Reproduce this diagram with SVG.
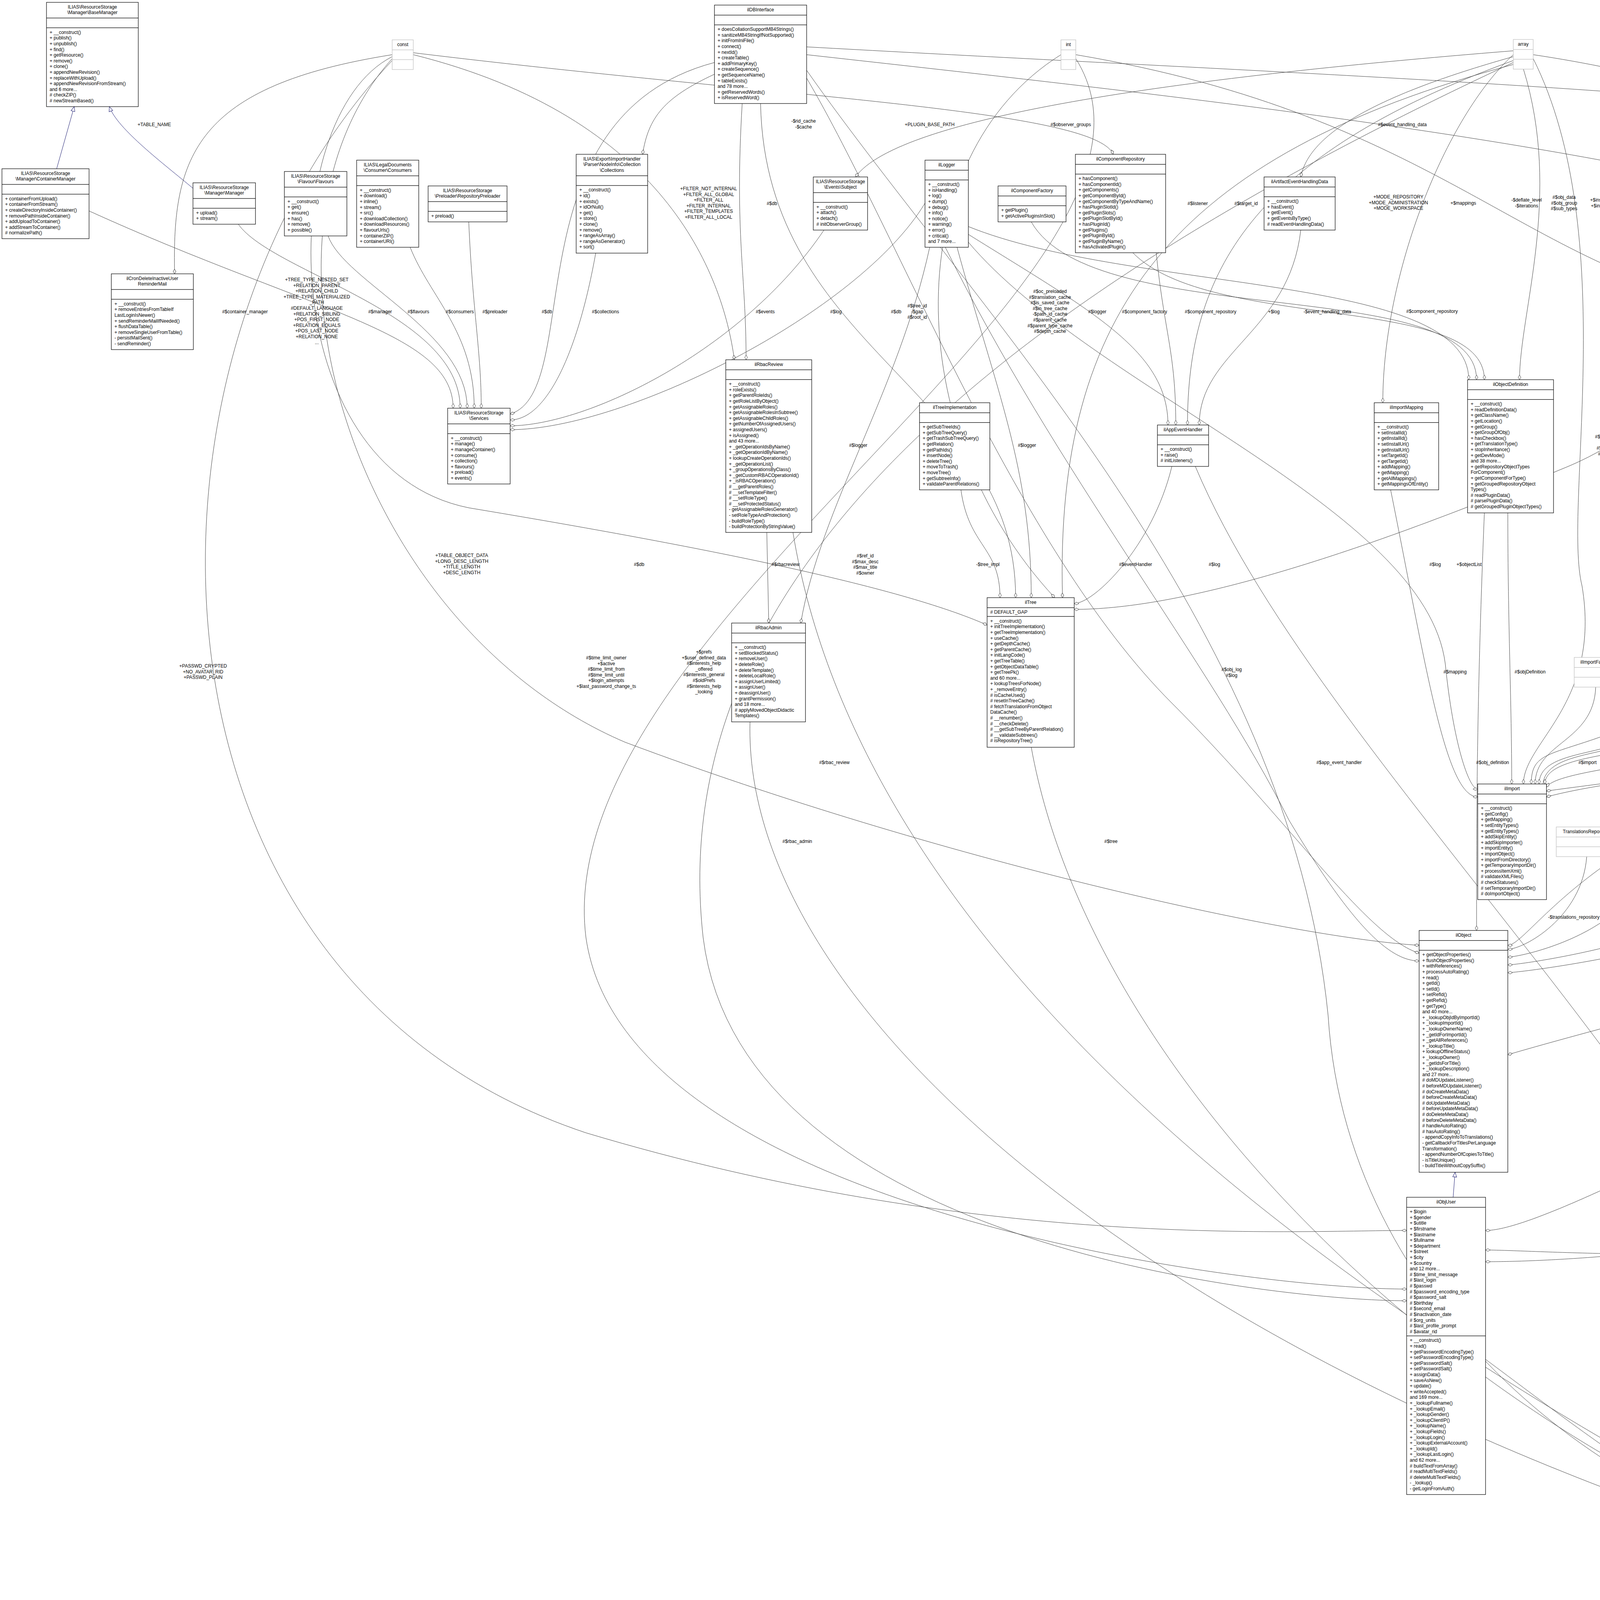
<svg xmlns="http://www.w3.org/2000/svg" width="7123" height="4123" viewBox="0 0 7123 4123">
<style>
text{font-family:"Liberation Sans",Arial,sans-serif;font-size:12px;fill:#000}
.t{text-anchor:middle}
.lb{text-anchor:middle}
.n rect{fill:#fff;stroke:#000;stroke-width:1.2}
.n path{stroke:#000;stroke-width:1.2;fill:none}
.x rect{fill:#fff;stroke:#bfbfbf;stroke-width:1.2}
.x path{stroke:#bfbfbf;stroke-width:1.2;fill:none}
.f rect{fill:#bfbfbf}
.agg{fill:none;stroke:#404040;stroke-width:1;marker-end:url(#dia)}
.inh{fill:none;stroke:#191970;stroke-width:1;marker-end:url(#tri)}
</style>
<defs>
<marker id="dia" markerUnits="userSpaceOnUse" markerWidth="14" markerHeight="10" refX="13" refY="5" orient="auto"><path d="M1 5L7 1.5L13 5L7 8.5Z" fill="#fff" stroke="#404040"/></marker>
<marker id="tri" markerUnits="userSpaceOnUse" markerWidth="14" markerHeight="12" refX="13" refY="6" orient="auto"><path d="M1 1L13 6L1 11Z" fill="#fff" stroke="#191970"/></marker>
</defs>
<rect width="7123" height="4123" fill="#fff"/>
<g id="connectors">
<path class="inh" d="M145 432L190 273"/>
<path class="inh" d="M494 482C420 420,300 330,280 273"/>
<path class="inh" d="M5222 388L5240 237"/>
<path class="inh" d="M5300 1060L5360 582"/>
<path class="inh" d="M5715 1074L5400 582"/>
<path class="inh" d="M5690 1993L5840 1783"/>
<path class="inh" d="M6265 1573L6420 1195"/>
<path class="inh" d="M4770 3894C4760 3000,4400 2100,4270 1833"/>
<path class="inh" d="M3720 3065L3725 3001"/>
<path class="agg" d="M228 540C800 800,1160 850,1160 1045"/>
<path class="agg" d="M610 574C700 700,1178 800,1178 1045"/>
<path class="agg" d="M840 604C880 720,1196 850,1196 1045"/>
<path class="agg" d="M1050 633C1100 760,1214 850,1214 1045"/>
<path class="agg" d="M1200 568C1210 800,1232 900,1232 1045"/>
<path class="agg" d="M1829 160C1300 300,1500 1000,1306 1060"/>
<path class="agg" d="M1525 648C1480 900,1400 1075,1306 1075"/>
<path class="agg" d="M2110 588C1900 900,1500 1090,1306 1090"/>
<path class="agg" d="M1004 140C500 220,440 400,447 701"/>
<path class="agg" d="M1004 145C700 300,700 1200,1200 1300C1800 1400,2300 1500,2527 1600"/>
<path class="agg" d="M1004 150C600 600,900 1600,1600 1900C2400 2200,3300 2400,3633 2420"/>
<path class="agg" d="M1004 155C300 900,300 2500,1500 2900C2500 3200,3300 3150,3601 3150"/>
<path class="agg" d="M1058 140C1700 300,1850 700,1880 921"/>
<path class="agg" d="M1058 135C2000 250,2800 280,2850 395"/>
<path class="agg" d="M1947 265C1960 900,2600 1000,2600 1530"/>
<path class="agg" d="M1900 265C1880 600,1910 700,1910 921"/>
<path class="agg" d="M2065 200C2300 600,2600 1400,3000 1800C3300 2100,3500 2400,3633 2440"/>
<path class="agg" d="M2065 120C3500 200,5000 250,5115 388"/>
<path class="agg" d="M2065 140C3500 300,5400 500,5475 1022"/>
<path class="agg" d="M2065 180C2500 800,3300 1600,3400 2600C3450 3400,4200 3900,4667 3960"/>
<path class="agg" d="M1829 190C1700 250,1660 300,1645 395"/>
<path class="agg" d="M2716 140C2300 400,2300 1100,2700 1530"/>
<path class="agg" d="M2754 150C3100 700,1400 1600,1500 2400C1600 3100,3200 3300,3601 3300"/>
<path class="agg" d="M2754 140C3700 300,3900 700,4500 800C5000 880,5250 900,5250 1060"/>
<path class="agg" d="M3874 140C3700 300,3540 700,3540 1031"/>
<path class="agg" d="M3900 177C4000 500,3890 800,3890 972"/>
<path class="agg" d="M3874 160C2500 800,1700 1500,1800 2400C1900 3200,3300 3330,3601 3330"/>
<path class="agg" d="M3925 150C4150 600,4000 1300,4050 1500C4100 1800,3900 1900,3900 2007"/>
<path class="agg" d="M3925 140C5000 300,6150 1000,6180 1573"/>
<path class="agg" d="M3874 130C3000 200,2300 300,2190 453"/>
<path class="agg" d="M3874 145C3500 250,3350 350,3330 453"/>
<path class="agg" d="M3874 155C3200 400,3040 700,3040 1088"/>
<path class="agg" d="M3874 165C3000 400,2700 800,2720 1530"/>
<path class="agg" d="M4855 150C4400 500,4500 1000,4000 1200C3400 1450,3000 1560,2750 1560"/>
<path class="agg" d="M4880 177C4700 800,4290 1200,4290 1610"/>
<path class="agg" d="M4870 177C4900 1000,4900 1900,4300 2100C4000 2250,3900 2420,3860 2420"/>
<path class="agg" d="M4890 177C5100 1500,5000 2600,4200 3000C3950 3120,3850 3150,3803 3150"/>
<path class="agg" d="M4909 150C5050 200,5130 300,5130 388"/>
<path class="agg" d="M4909 140C5500 200,5980 250,5980 366"/>
<path class="agg" d="M4909 170C5300 400,5500 700,5500 1022"/>
<path class="agg" d="M4909 177C5000 1000,5150 1400,5150 1700C5150 1900,5400 2020,5520 2020"/>
<path class="agg" d="M4909 160C5050 500,5240 800,5240 1060"/>
<path class="agg" d="M4909 165C5700 400,5900 600,5900 800C5900 950,5740 950,5740 1074"/>
<path class="agg" d="M4860 177C4500 700,4700 1500,4300 1800C4000 1950,3920 1900,3920 2007"/>
<path class="agg" d="M4909 130C6000 250,6300 900,6200 1573"/>
<path class="agg" d="M5200 655C5300 850,5480 850,5480 1022"/>
<path class="agg" d="M5140 655C4950 1000,4950 2500,5000 3000C5050 3500,4950 3894,4890 3894"/>
<path class="agg" d="M5400 177C5390 300,5380 380,5380 461"/>
<path class="agg" d="M5720 177C5750 350,5900 380,5963 380"/>
<path class="agg" d="M6244 150C6100 250,6100 300,6100 366"/>
<path class="agg" d="M6270 177C6450 600,6400 1300,6240 1573"/>
<path class="agg" d="M6298 170C6900 800,6900 2000,6000 2700C5000 3200,4000 3230,3803 3230"/>
<path class="agg" d="M6632 150C6400 250,6250 380,6167 380"/>
<path class="agg" d="M6650 177C6700 900,6500 1700,6270 1700"/>
<path class="agg" d="M6660 177C6900 1000,6600 2100,5699 2200"/>
<path class="agg" d="M6679 160C7100 800,7100 2400,6200 2900C5200 3300,4000 3200,3803 3200"/>
<path class="agg" d="M6640 170C6300 500,5760 700,5760 1074"/>
<path class="agg" d="M5299 1225C5300 1400,5300 1500,5300 1633"/>
<path class="agg" d="M5700 1209C5650 1450,5390 1450,5390 1633"/>
<path class="agg" d="M5523 1257C5530 1600,5560 1700,5560 1993"/>
<path class="agg" d="M6060 677C6000 900,5600 850,5580 1022"/>
<path class="agg" d="M6131 1800C6000 1950,5800 2100,5699 2100"/>
<path class="agg" d="M5580 1257C5700 1500,6000 1650,6131 1650"/>
<path class="agg" d="M5520 2250C5200 2350,4200 2600,3860 2700"/>
<path class="agg" d="M5560 2318C5500 3000,5000 3800,4894 3910"/>
<path class="agg" d="M5280 1812C5100 1950,4300 1950,3959 2040"/>
<path class="agg" d="M5480 1257C5300 1900,4500 1950,3959 2025"/>
<path class="agg" d="M3560 1254C3650 1700,3700 2040,3783 2040"/>
<path class="agg" d="M3860 1313C3860 1600,3870 1800,3870 2007"/>
<path class="agg" d="M3800 1313C3780 1800,3780 2100,3780 2382"/>
<path class="agg" d="M4085 1759C4080 1900,3930 1900,3930 2007"/>
<path class="agg" d="M4210 1833C4200 1950,3940 1900,3940 2007"/>
<path class="agg" d="M3950 2007C3960 1900,4230 1950,4230 1833"/>
<path class="agg" d="M4440 1796C4400 1950,3955 1900,3955 2007"/>
<path class="agg" d="M4637 1759C4600 1950,4000 1950,3959 2015"/>
<path class="agg" d="M4062 2193C4050 2350,3900 2430,3860 2430"/>
<path class="agg" d="M4214 2193C4200 2380,3900 2450,3860 2450"/>
<path class="agg" d="M4400 2288C4350 2400,3900 2470,3860 2470"/>
<path class="agg" d="M4645 2215C4600 2400,3900 2490,3860 2490"/>
<path class="agg" d="M3803 3480C4100 3700,4400 3945,4667 3945"/>
<path class="agg" d="M1963 1363L1968 1595"/>
<path class="agg" d="M2460 1254C2480 1400,2560 1400,2560 1530"/>
<path class="agg" d="M3000 1194C2950 1400,2800 1545,2750 1545"/>
<path class="agg" d="M1920 1848C1900 2600,3000 3500,4667 4000"/>
<path class="agg" d="M2030 1363C2200 2400,3300 3300,4667 3990"/>
<path class="agg" d="M2640 1913C2800 2800,3800 3700,4667 3980"/>
<path class="agg" d="M3060 1194C3400 2000,4600 3000,4720 3894"/>
<path class="agg" d="M2640 568C2800 850,3780 700,3780 972"/>
<path class="agg" d="M2900 647C3100 850,3800 750,3800 972"/>
<path class="agg" d="M2960 647C2980 850,3010 900,3010 1088"/>
<path class="agg" d="M3330 589C3300 850,3070 900,3070 1088"/>
<path class="agg" d="M2380 633C2300 1000,2100 1300,2050 1595"/>
<path class="agg" d="M2450 633C2550 1000,2640 1200,2640 1530"/>
<path class="agg" d="M2479 600C2800 800,2990 900,2990 1088"/>
<path class="agg" d="M2479 580C2900 750,3760 700,3760 972"/>
<path class="agg" d="M2479 620C2800 1000,3650 1300,3700 1700C3720 1900,3760 2020,3783 2020"/>
<path class="agg" d="M2420 633C2700 1200,3100 1700,3300 2100C3450 2350,3550 2460,3633 2460"/>
<path class="agg" d="M2368 520C2200 800,1600 1100,1306 1100"/>
<text class="lb" x="395" y="323">+TABLE_NAME</text>
<text class="lb" x="627" y="802">#$container_manager</text>
<text class="lb" x="811" y="720"><tspan x="811">+TREE_TYPE_NESTED_SET</tspan><tspan x="811" dy="14.6">+RELATION_PARENT</tspan><tspan x="811" dy="14.6">+RELATION_CHILD</tspan><tspan x="811" dy="14.6">+TREE_TYPE_MATERIALIZED</tspan><tspan x="811" dy="14.6">_PATH</tspan><tspan x="811" dy="14.6">#DEFAULT_LANGUAGE</tspan><tspan x="811" dy="14.6">+RELATION_SIBLING</tspan><tspan x="811" dy="14.6">+POS_FIRST_NODE</tspan><tspan x="811" dy="14.6">+RELATION_EQUALS</tspan><tspan x="811" dy="14.6">+POS_LAST_NODE</tspan><tspan x="811" dy="14.6">+RELATION_NONE</tspan><tspan x="811" dy="14.6">...</tspan></text>
<text class="lb" x="973" y="802">#$manager</text>
<text class="lb" x="1071" y="802">#$flavours</text>
<text class="lb" x="1177" y="802">#$consumers</text>
<text class="lb" x="1267" y="802">#$preloader</text>
<text class="lb" x="1400" y="802">#$db</text>
<text class="lb" x="1550" y="802">#$collections</text>
<text class="lb" x="2057" y="314"><tspan x="2057">-$rid_cache</tspan><tspan x="2057" dy="14.6">-$cache</tspan></text>
<text class="lb" x="2380" y="323">+PLUGIN_BASE_PATH</text>
<text class="lb" x="1814" y="487"><tspan x="1814">+FILTER_NOT_INTERNAL</tspan><tspan x="1814" dy="14.6">+FILTER_ALL_GLOBAL</tspan><tspan x="1814" dy="14.6">+FILTER_ALL</tspan><tspan x="1814" dy="14.6">+FILTER_INTERNAL</tspan><tspan x="1814" dy="14.6">+FILTER_TEMPLATES</tspan><tspan x="1814" dy="14.6">+FILTER_ALL_LOCAL</tspan></text>
<text class="lb" x="1976" y="525">#$db</text>
<text class="lb" x="1959" y="802">#$events</text>
<text class="lb" x="2140" y="802">#$log</text>
<text class="lb" x="2294" y="802">#$db</text>
<text class="lb" x="2348" y="787"><tspan x="2348">#$tree_id</tspan><tspan x="2348" dy="14.6">-$gap</tspan><tspan x="2348" dy="14.6">#$root_id</tspan></text>
<text class="lb" x="2741" y="323">#$observer_groups</text>
<text class="lb" x="3590" y="323">#$event_handling_data</text>
<text class="lb" x="3066" y="525">#$listener</text>
<text class="lb" x="3190" y="525">#$target_id</text>
<text class="lb" x="3580" y="508"><tspan x="3580">+MODE_REPOSITORY</tspan><tspan x="3580" dy="14.6">+MODE_ADMINISTRATION</tspan><tspan x="3580" dy="14.6">+MODE_WORKSPACE</tspan></text>
<text class="lb" x="2688" y="750"><tspan x="2688">#$oc_preloaded</tspan><tspan x="2688" dy="14.6">#$translation_cache</tspan><tspan x="2688" dy="14.6">#$is_saved_cache</tspan><tspan x="2688" dy="14.6">#$in_tree_cache</tspan><tspan x="2688" dy="14.6">-$path_id_cache</tspan><tspan x="2688" dy="14.6">#$parent_cache</tspan><tspan x="2688" dy="14.6">#$parent_type_cache</tspan><tspan x="2688" dy="14.6">#$depth_cache</tspan></text>
<text class="lb" x="2809" y="802">#$logger</text>
<text class="lb" x="2930" y="802">#$component_factory</text>
<text class="lb" x="3099" y="802">#$component_repository</text>
<text class="lb" x="3261" y="802">+$log</text>
<text class="lb" x="3398" y="802">-$event_handling_data</text>
<text class="lb" x="4199" y="314"><tspan x="4199">-SENSTIVE_PARAMETER</tspan><tspan x="4199" dy="14.6">_NAMES</tspan></text>
<text class="lb" x="4602" y="322">#$db</text>
<text class="lb" x="4790" y="307"><tspan x="4790">+$MESSAGE</tspan><tspan x="4790" dy="14.6">+$FATAL</tspan><tspan x="4790" dy="14.6">+$WARNING</tspan></text>
<text class="lb" x="5027" y="322">+$setting</text>
<text class="lb" x="5127" y="322">+$module</text>
<text class="lb" x="5270" y="322">-$ignore</text>
<text class="lb" x="3746" y="524">+$mappings</text>
<text class="lb" x="3908" y="516"><tspan x="3908">-$deflate_level</tspan><tspan x="3908" dy="14.6">-$iterations</tspan></text>
<text class="lb" x="4004" y="509"><tspan x="4004">#$obj_data</tspan><tspan x="4004" dy="14.6">#$obj_group</tspan><tspan x="4004" dy="14.6">#$sub_types</tspan></text>
<text class="lb" x="4103" y="516"><tspan x="4103">+$install_url</tspan><tspan x="4103" dy="14.6">+$install_id</tspan></text>
<text class="lb" x="4474" y="502"><tspan x="4474">#$parent_tag_name</tspan><tspan x="4474" dy="14.6">#$current_tag_name</tspan><tspan x="4474" dy="14.6">#$current_tag</tspan><tspan x="4474" dy="14.6">#$root_trans_type</tspan></text>
<text class="lb" x="5037" y="516"><tspan x="5037">-$zip_output_path</tspan><tspan x="5037" dy="14.6">-$zip_output_name</tspan></text>
<text class="lb" x="3666" y="801">#$component_repository</text>
<text class="lb" x="4291" y="801">#$skip_entities</text>
<text class="lb" x="4459" y="757"><tspan x="4459">#$table_obj_data</tspan><tspan x="4459" dy="14.6">#$tree_pk</tspan><tspan x="4459" dy="14.6">#$table_obj_reference</tspan><tspan x="4459" dy="14.6">-$lang_code</tspan><tspan x="4459" dy="14.6">#$obj_pk</tspan><tspan x="4459" dy="14.6">#$ref_pk</tspan><tspan x="4459" dy="14.6">#$table_tree</tspan></text>
<text class="lb" x="4622" y="779"><tspan x="4622">#$import_directory</tspan><tspan x="4622" dy="14.6">#$install_url</tspan><tspan x="4622" dy="14.6">#$install_id</tspan><tspan x="4622" dy="14.6">#$schema_version</tspan></text>
<text class="lb" x="4935" y="801">#$settings</text>
<text class="lb" x="5170" y="801">#$translations</text>
<text class="lb" x="5360" y="801">#$setting</text>
<text class="lb" x="4126" y="1122"><tspan x="4126">#$skip_importer</tspan><tspan x="4126" dy="14.6">#$configs</tspan><tspan x="4126" dy="14.6">#$entity_types</tspan><tspan x="4126" dy="14.6">#$skip_entity</tspan></text>
<text class="lb" x="4677" y="1122"><tspan x="4677">#$entities</tspan><tspan x="4677" dy="14.6">#$current_comp</tspan><tspan x="4677" dy="14.6">#$tmp_import_dir</tspan><tspan x="4677" dy="14.6">#$comp</tspan></text>
<text class="lb" x="4992" y="1122"><tspan x="4992">#$cached_modules</tspan><tspan x="4992" dy="14.6">#$map_modules_txt</tspan><tspan x="4992" dy="14.6">+$loaded_modules</tspan><tspan x="4992" dy="14.6">+$text</tspan></text>
<text class="lb" x="5145" y="1093"><tspan x="5145">+$lang_name</tspan><tspan x="5145" dy="14.6">+$lang_user</tspan><tspan x="5145" dy="14.6">+$lang_path</tspan><tspan x="5145" dy="14.6">#$cust_lang_path</tspan><tspan x="5145" dy="14.6">+$separator</tspan><tspan x="5145" dy="14.6">+$comment_separator</tspan><tspan x="5145" dy="14.6">+$lang_key</tspan><tspan x="5145" dy="14.6">+$lang_default</tspan></text>
<text class="lb" x="5475" y="322">#$top_directory_handling</text>
<text class="lb" x="5673" y="322">#$message</text>
<text class="lb" x="5768" y="322">#$whoops</text>
<text class="lb" x="5916" y="314"><tspan x="5916">-$settings_cache</tspan><tspan x="5916" dy="14.6">-$value_type</tspan></text>
<text class="lb" x="6090" y="322">#$cache_disabled</text>
<text class="lb" x="6264" y="322">#$whoops_handlers_registered</text>
<text class="lb" x="6499" y="322">#$DEBUG_ENV</text>
<text class="lb" x="5552" y="516"><tspan x="5552">+$INI_FILE</tspan><tspan x="5552" dy="14.6">+$client_id</tspan></text>
<text class="lb" x="5708" y="509"><tspan x="5708">#$is_assigned_cache</tspan><tspan x="5708" dy="14.6">-$_opsCache</tspan><tspan x="5708" dy="14.6">#$assigned_users_cache</tspan></text>
<text class="lb" x="5887" y="524">#$zip_output_path</text>
<text class="lb" x="6446" y="516"><tspan x="6446">-$overwrite</tspan><tspan x="6446" dy="14.6">-$flat</tspan></text>
<text class="lb" x="5815" y="801">#$error</text>
<text class="lb" x="6181" y="801">#$use_cache</text>
<text class="lb" x="6308" y="801">#$language_key</text>
<text class="lb" x="6430" y="801">#$instances</text>
<text class="lb" x="6693" y="801">#$loaded</text>
<text class="lb" x="6634" y="1131"><tspan x="6634">#$lng_log</tspan><tspan x="6634" dy="14.6">#$used_modules</tspan><tspan x="6634" dy="14.6">#$used_topics</tspan></text>
<text class="lb" x="6803" y="1144">#$usage_log_enabled</text>
<text class="lb" x="5359" y="1449">-$zip_options</text>
<text class="lb" x="5636" y="1449">-$unzip_options</text>
<text class="lb" x="5969" y="1449">#$language_cache</text>
<text class="lb" x="6872" y="1427"><tspan x="6872">#$register</tspan><tspan x="6872" dy="14.6">#$call_by_reference</tspan><tspan x="6872" dy="14.6">-$process_auto_rating</tspan><tspan x="6872" dy="14.6">#$add_dots</tspan></text>
<text class="lb" x="5641" y="1724">+$ilias</text>
<text class="lb" x="5738" y="1724">#$error</text>
<text class="lb" x="6856" y="1724">#$personal_image_cache</text>
<text class="lb" x="7040" y="1702"><tspan x="7040">#$profile_incomplete</tspan><tspan x="7040" dy="14.6">#$passwd_policy_reset</tspan><tspan x="7040" dy="14.6">#$time_limit_unlimited</tspan><tspan x="7040" dy="14.6">-$is_self_registered</tspan></text>
<text class="lb" x="5970" y="1956">#$global_cache</text>
<text class="lb" x="5431" y="2158">#$delivery</text>
<text class="lb" x="5366" y="2352">#$lng</text>
<text class="lb" x="2197" y="1144">#$logger</text>
<text class="lb" x="2629" y="1144">#$logger</text>
<text class="lb" x="2011" y="1449">#$rbacreview</text>
<text class="lb" x="2215" y="1427"><tspan x="2215">#$ref_id</tspan><tspan x="2215" dy="14.6">#$max_desc</tspan><tspan x="2215" dy="14.6">#$max_title</tspan><tspan x="2215" dy="14.6">#$owner</tspan></text>
<text class="lb" x="2529" y="1449">-$tree_impl</text>
<text class="lb" x="2907" y="1449">#$eventHandler</text>
<text class="lb" x="3109" y="1449">#$log</text>
<text class="lb" x="3674" y="1449">#$log</text>
<text class="lb" x="1802" y="1673"><tspan x="1802">+$prefs</tspan><tspan x="1802" dy="14.6">+$user_defined_data</tspan><tspan x="1802" dy="14.6">#$interests_help</tspan><tspan x="1802" dy="14.6">_offered</tspan><tspan x="1802" dy="14.6">#$interests_general</tspan><tspan x="1802" dy="14.6">#$oldPrefs</tspan><tspan x="1802" dy="14.6">#$interests_help</tspan><tspan x="1802" dy="14.6">_looking</tspan></text>
<text class="lb" x="3153" y="1718"><tspan x="3153">#$obj_log</tspan><tspan x="3153" dy="14.6">#$log</tspan></text>
<text class="lb" x="2136" y="1956">#$rbac_review</text>
<text class="lb" x="3428" y="1956">#$app_event_handler</text>
<text class="lb" x="2041" y="2158">#$rbac_admin</text>
<text class="lb" x="2844" y="2158">#$tree</text>
<text class="lb" x="3761" y="1449">+$objectList</text>
<text class="lb" x="4888" y="1399"><tspan x="4888">#$create_date</tspan><tspan x="4888" dy="14.6">#$desc</tspan><tspan x="4888" dy="14.6">#$title</tspan><tspan x="4888" dy="14.6">#$long_desc</tspan><tspan x="4888" dy="14.6">#$import_id</tspan><tspan x="4888" dy="14.6">+$untranslatedTitle</tspan><tspan x="4888" dy="14.6">#$type</tspan><tspan x="4888" dy="14.6">#$last_update</tspan></text>
<text class="lb" x="3725" y="1724">#$mapping</text>
<text class="lb" x="3917" y="1724">#$objDefinition</text>
<text class="lb" x="5078" y="1652"><tspan x="5078">#$ext_account</tspan><tspan x="5078" dy="14.6">+$email</tspan><tspan x="5078" dy="14.6">+$phone_office</tspan><tspan x="5078" dy="14.6">+$institution</tspan><tspan x="5078" dy="14.6">#$first_login</tspan><tspan x="5078" dy="14.6">+$longitude</tspan><tspan x="5078" dy="14.6">+$hobby</tspan><tspan x="5078" dy="14.6">+$zipcode</tspan><tspan x="5078" dy="14.6">#$passwd_type</tspan><tspan x="5078" dy="14.6">+$referral_comment</tspan><tspan x="5078" dy="14.6">...</tspan></text>
<text class="lb" x="3821" y="1956">#$obj_definition</text>
<text class="lb" x="4064" y="1956">#$import</text>
<text class="lb" x="4169" y="1956">#$importer</text>
<text class="lb" x="4252" y="1956">#$imp</text>
<text class="lb" x="4357" y="1956">#$filesystem</text>
<text class="lb" x="4569" y="1956">-$import_status</text>
<text class="lb" x="4913" y="1956">#$data</text>
<text class="lb" x="5071" y="1956">#$archives</text>
<text class="lb" x="5157" y="1956">#$ilias</text>
<text class="lb" x="4029" y="2352">-$translations_repository</text>
<text class="lb" x="4186" y="2352">#$lom_services</text>
<text class="lb" x="4312" y="2352">-$object_properties</text>
<text class="lb" x="4572" y="2352">-$properties_aggregator</text>
<text class="lb" x="1182" y="1426"><tspan x="1182">+TABLE_OBJECT_DATA</tspan><tspan x="1182" dy="14.6">+LONG_DESC_LENGTH</tspan><tspan x="1182" dy="14.6">+TITLE_LENGTH</tspan><tspan x="1182" dy="14.6">+DESC_LENGTH</tspan></text>
<text class="lb" x="1636" y="1449">#$db</text>
<text class="lb" x="520" y="1709"><tspan x="520">+PASSWD_CRYPTED</tspan><tspan x="520" dy="14.6">+NO_AVATAR_RID</tspan><tspan x="520" dy="14.6">+PASSWD_PLAIN</tspan></text>
<text class="lb" x="1552" y="1688"><tspan x="1552">#$time_limit_owner</tspan><tspan x="1552" dy="14.6">+$active</tspan><tspan x="1552" dy="14.6">#$time_limit_from</tspan><tspan x="1552" dy="14.6">#$time_limit_until</tspan><tspan x="1552" dy="14.6">+$login_attempts</tspan><tspan x="1552" dy="14.6">+$last_password_change_ts</tspan></text>
<text class="lb" x="4300" y="3770">#$user</text>
</g>
<g id="n_basemanager" class="n"><rect x="119" y="6" width="235" height="267"/><path d="M119 46.2H354M119 71.2H354"/><text class="t" y="21.5"><tspan x="236.5">ILIAS\ResourceStorage</tspan><tspan x="236.5" dy="14.6">\Manager\BaseManager</tspan></text><text y="86.7"><tspan x="127">+ __construct()</tspan><tspan x="127" dy="14.6">+ publish()</tspan><tspan x="127" dy="14.6">+ unpublish()</tspan><tspan x="127" dy="14.6">+ find()</tspan><tspan x="127" dy="14.6">+ getResource()</tspan><tspan x="127" dy="14.6">+ remove()</tspan><tspan x="127" dy="14.6">+ clone()</tspan><tspan x="127" dy="14.6">+ appendNewRevision()</tspan><tspan x="127" dy="14.6">+ replaceWithUpload()</tspan><tspan x="127" dy="14.6">+ appendNewRevisionFromStream()</tspan><tspan x="127" dy="14.6">and 6 more...</tspan><tspan x="127" dy="14.6"># checkZIP()</tspan><tspan x="127" dy="14.6"># newStreamBased()</tspan></text></g>
<g id="n_containermanager" class="n"><rect x="5" y="432" width="223" height="179"/><path d="M5 472.2H228M5 497.2H228"/><text class="t" y="447.5"><tspan x="116.5">ILIAS\ResourceStorage</tspan><tspan x="116.5" dy="14.6">\Manager\ContainerManager</tspan></text><text y="512.7"><tspan x="13">+ containerFromUpload()</tspan><tspan x="13" dy="14.6">+ containerFromStream()</tspan><tspan x="13" dy="14.6">+ createDirectoryInsideContainer()</tspan><tspan x="13" dy="14.6">+ removePathInsideContainer()</tspan><tspan x="13" dy="14.6">+ addUploadToContainer()</tspan><tspan x="13" dy="14.6">+ addStreamToContainer()</tspan><tspan x="13" dy="14.6"># normalizePath()</tspan></text></g>
<g id="n_manager" class="n"><rect x="494" y="468" width="160" height="106"/><path d="M494 508.2H654M494 533.2H654"/><text class="t" y="483.5"><tspan x="574">ILIAS\ResourceStorage</tspan><tspan x="574" dy="14.6">\Manager\Manager</tspan></text><text y="548.7"><tspan x="502">+ upload()</tspan><tspan x="502" dy="14.6">+ stream()</tspan></text></g>
<g id="n_flavours" class="n"><rect x="728" y="439" width="160" height="165"/><path d="M728 479.2H888M728 504.2H888"/><text class="t" y="454.5"><tspan x="808">ILIAS\ResourceStorage</tspan><tspan x="808" dy="14.6">\Flavour\Flavours</tspan></text><text y="519.7"><tspan x="736">+ __construct()</tspan><tspan x="736" dy="14.6">+ get()</tspan><tspan x="736" dy="14.6">+ ensure()</tspan><tspan x="736" dy="14.6">+ has()</tspan><tspan x="736" dy="14.6">+ remove()</tspan><tspan x="736" dy="14.6">+ possible()</tspan></text></g>
<g id="n_consumers" class="n"><rect x="913" y="410" width="159" height="223"/><path d="M913 450.2H1072M913 475.2H1072"/><text class="t" y="425.5"><tspan x="992.5">ILIAS\LegalDocuments</tspan><tspan x="992.5" dy="14.6">\Consumer\Consumers</tspan></text><text y="490.7"><tspan x="921">+ __construct()</tspan><tspan x="921" dy="14.6">+ download()</tspan><tspan x="921" dy="14.6">+ inline()</tspan><tspan x="921" dy="14.6">+ stream()</tspan><tspan x="921" dy="14.6">+ src()</tspan><tspan x="921" dy="14.6">+ downloadCollection()</tspan><tspan x="921" dy="14.6">+ downloadResources()</tspan><tspan x="921" dy="14.6">+ flavourUrls()</tspan><tspan x="921" dy="14.6">+ containerZIP()</tspan><tspan x="921" dy="14.6">+ containerURI()</tspan></text></g>
<g id="n_preloader" class="n"><rect x="1096" y="476" width="202" height="92"/><path d="M1096 516.2H1298M1096 541.2H1298"/><text class="t" y="491.5"><tspan x="1197">ILIAS\ResourceStorage</tspan><tspan x="1197" dy="14.6">\Preloader\RepositoryPreloader</tspan></text><text y="556.7"><tspan x="1104">+ preload()</tspan></text></g>
<g id="n_crondelete" class="n"><rect x="285" y="701" width="210" height="194"/><path d="M285 741.2H495M285 766.2H495"/><text class="t" y="716.5"><tspan x="390">ilCronDeleteInactiveUser</tspan><tspan x="390" dy="14.6">ReminderMail</tspan></text><text y="781.7"><tspan x="293">+ __construct()</tspan><tspan x="293" dy="14.6">+ removeEntriesFromTableIf</tspan><tspan x="293" dy="14.6">LastLoginIsNewer()</tspan><tspan x="293" dy="14.6">+ sendReminderMailIfNeeded()</tspan><tspan x="293" dy="14.6">+ flushDataTable()</tspan><tspan x="293" dy="14.6">+ removeSingleUserFromTable()</tspan><tspan x="293" dy="14.6">- persistMailSent()</tspan><tspan x="293" dy="14.6">- sendReminder()</tspan></text></g>
<g id="n_services" class="n"><rect x="1146" y="1045" width="160" height="194"/><path d="M1146 1085.2H1306M1146 1110.2H1306"/><text class="t" y="1060.5"><tspan x="1226">ILIAS\ResourceStorage</tspan><tspan x="1226" dy="14.6">\Services</tspan></text><text y="1125.7"><tspan x="1154">+ __construct()</tspan><tspan x="1154" dy="14.6">+ manage()</tspan><tspan x="1154" dy="14.6">+ manageContainer()</tspan><tspan x="1154" dy="14.6">+ consume()</tspan><tspan x="1154" dy="14.6">+ collection()</tspan><tspan x="1154" dy="14.6">+ flavours()</tspan><tspan x="1154" dy="14.6">+ preload()</tspan><tspan x="1154" dy="14.6">+ events()</tspan></text></g>
<g id="n_dbinterface" class="n"><rect x="1829" y="13" width="236" height="252"/><path d="M1829 38.6H2065M1829 63.6H2065"/><text class="t" y="28.5"><tspan x="1947">ilDBInterface</tspan></text><text y="79.1"><tspan x="1837">+ doesCollationSupportMB4Strings()</tspan><tspan x="1837" dy="14.6">+ sanitizeMB4StringIfNotSupported()</tspan><tspan x="1837" dy="14.6">+ initFromIniFile()</tspan><tspan x="1837" dy="14.6">+ connect()</tspan><tspan x="1837" dy="14.6">+ nextId()</tspan><tspan x="1837" dy="14.6">+ createTable()</tspan><tspan x="1837" dy="14.6">+ addPrimaryKey()</tspan><tspan x="1837" dy="14.6">+ createSequence()</tspan><tspan x="1837" dy="14.6">+ getSequenceName()</tspan><tspan x="1837" dy="14.6">+ tableExists()</tspan><tspan x="1837" dy="14.6">and 78 more...</tspan><tspan x="1837" dy="14.6">+ getReservedWords()</tspan><tspan x="1837" dy="14.6">+ isReservedWord()</tspan></text></g>
<g id="n_collections" class="n"><rect x="1475" y="395" width="183" height="253"/><path d="M1475 449.8H1658M1475 474.8H1658"/><text class="t" y="410.5"><tspan x="1566.5">ILIAS\Export\ImportHandler</tspan><tspan x="1566.5" dy="14.6">\Parser\NodeInfo\Collection</tspan><tspan x="1566.5" dy="14.6">\Collections</tspan></text><text y="490.3"><tspan x="1483">+ __construct()</tspan><tspan x="1483" dy="14.6">+ id()</tspan><tspan x="1483" dy="14.6">+ exists()</tspan><tspan x="1483" dy="14.6">+ idOrNull()</tspan><tspan x="1483" dy="14.6">+ get()</tspan><tspan x="1483" dy="14.6">+ store()</tspan><tspan x="1483" dy="14.6">+ clone()</tspan><tspan x="1483" dy="14.6">+ remove()</tspan><tspan x="1483" dy="14.6">+ rangeAsArray()</tspan><tspan x="1483" dy="14.6">+ rangeAsGenerator()</tspan><tspan x="1483" dy="14.6">+ sort()</tspan></text></g>
<g id="n_subject" class="n"><rect x="2082" y="453" width="139" height="136"/><path d="M2082 493.2H2221M2082 518.2H2221"/><text class="t" y="468.5"><tspan x="2151.5">ILIAS\ResourceStorage</tspan><tspan x="2151.5" dy="14.6">\Events\Subject</tspan></text><text y="533.7"><tspan x="2090">+ __construct()</tspan><tspan x="2090" dy="14.6">+ attach()</tspan><tspan x="2090" dy="14.6">+ detach()</tspan><tspan x="2090" dy="14.6"># initObserverGroup()</tspan></text></g>
<g id="n_logger" class="n"><rect x="2368" y="410" width="111" height="223"/><path d="M2368 435.6H2479M2368 460.6H2479"/><text class="t" y="425.5"><tspan x="2423.5">ilLogger</tspan></text><text y="476.1"><tspan x="2376">+ __construct()</tspan><tspan x="2376" dy="14.6">+ isHandling()</tspan><tspan x="2376" dy="14.6">+ log()</tspan><tspan x="2376" dy="14.6">+ dump()</tspan><tspan x="2376" dy="14.6">+ debug()</tspan><tspan x="2376" dy="14.6">+ info()</tspan><tspan x="2376" dy="14.6">+ notice()</tspan><tspan x="2376" dy="14.6">+ warning()</tspan><tspan x="2376" dy="14.6">+ error()</tspan><tspan x="2376" dy="14.6">+ critical()</tspan><tspan x="2376" dy="14.6">and 7 more...</tspan></text></g>
<g id="n_compfactory" class="n"><rect x="2555" y="476" width="174" height="92"/><path d="M2555 501.6H2729M2555 526.6H2729"/><text class="t" y="491.5"><tspan x="2642">ilComponentFactory</tspan></text><text y="542.1"><tspan x="2563">+ getPlugin()</tspan><tspan x="2563" dy="14.6">+ getActivePluginsInSlot()</tspan></text></g>
<g id="n_comprepo" class="n"><rect x="2753" y="395" width="231" height="252"/><path d="M2753 420.6H2984M2753 445.6H2984"/><text class="t" y="410.5"><tspan x="2868.5">ilComponentRepository</tspan></text><text y="461.1"><tspan x="2761">+ hasComponent()</tspan><tspan x="2761" dy="14.6">+ hasComponentId()</tspan><tspan x="2761" dy="14.6">+ getComponents()</tspan><tspan x="2761" dy="14.6">+ getComponentById()</tspan><tspan x="2761" dy="14.6">+ getComponentByTypeAndName()</tspan><tspan x="2761" dy="14.6">+ hasPluginSlotId()</tspan><tspan x="2761" dy="14.6">+ getPluginSlots()</tspan><tspan x="2761" dy="14.6">+ getPluginSlotById()</tspan><tspan x="2761" dy="14.6">+ hasPluginId()</tspan><tspan x="2761" dy="14.6">+ getPlugins()</tspan><tspan x="2761" dy="14.6">+ getPluginById()</tspan><tspan x="2761" dy="14.6">+ getPluginByName()</tspan><tspan x="2761" dy="14.6">+ hasActivatedPlugin()</tspan></text></g>
<g id="n_artifact" class="n"><rect x="3236" y="453" width="182" height="136"/><path d="M3236 478.6H3418M3236 503.6H3418"/><text class="t" y="468.5"><tspan x="3327">ilArtifactEventHandlingData</tspan></text><text y="519.1"><tspan x="3244">+ __construct()</tspan><tspan x="3244" dy="14.6">+ hasEvent()</tspan><tspan x="3244" dy="14.6">+ getEvent()</tspan><tspan x="3244" dy="14.6">+ getEventsByType()</tspan><tspan x="3244" dy="14.6"># readEventHandlingData()</tspan></text></g>
<g id="n_adminsetting" class="n"><rect x="5183" y="43" width="111" height="194"/><path d="M5183 83.2H5294M5183 108.2H5294"/><text class="t" y="58.5"><tspan x="5238.5">ILIAS\Administration</tspan><tspan x="5238.5" dy="14.6">\Setting</tspan></text><text y="123.7"><tspan x="5191">+ getModule()</tspan><tspan x="5191" dy="14.6">+ read()</tspan><tspan x="5191" dy="14.6">+ get()</tspan><tspan x="5191" dy="14.6">+ deleteAll()</tspan><tspan x="5191" dy="14.6">+ delete()</tspan><tspan x="5191" dy="14.6">+ getAll()</tspan><tspan x="5191" dy="14.6">+ set()</tspan><tspan x="5191" dy="14.6">+ _lookupValue()</tspan></text></g>
<g id="n_ilsetting" class="n"><rect x="5103" y="388" width="155" height="267"/><path d="M5103 413.6H5258M5103 438.6H5258"/><text class="t" y="403.5"><tspan x="5180.5">ilSetting</tspan></text><text y="454.1"><tspan x="5111">+ __construct()</tspan><tspan x="5111" dy="14.6">+ getModule()</tspan><tspan x="5111" dy="14.6">+ read()</tspan><tspan x="5111" dy="14.6">+ get()</tspan><tspan x="5111" dy="14.6">+ deleteAll()</tspan><tspan x="5111" dy="14.6">+ deleteLike()</tspan><tspan x="5111" dy="14.6">+ delete()</tspan><tspan x="5111" dy="14.6">+ getAll()</tspan><tspan x="5111" dy="14.6">+ set()</tspan><tspan x="5111" dy="14.6">+ setScormDebug()</tspan><tspan x="5111" dy="14.6">+ _lookupValue()</tspan><tspan x="5111" dy="14.6">+ _getValueType()</tspan><tspan x="5111" dy="14.6">+ _changeValueType()</tspan><tspan x="5111" dy="14.6">+ _getLongerSettings()</tspan></text></g>
<g id="n_options" class="n"><rect x="5282" y="461" width="181" height="121"/><path d="M5282 501.2H5463M5282 526.2H5463"/><text class="t" y="476.5"><tspan x="5372.5">ILIAS\Filesystem\Util</tspan><tspan x="5372.5" dy="14.6">\Archive\Options</tspan></text><text y="541.7"><tspan x="5290">+ getIgnoredPathSnippets()</tspan><tspan x="5290" dy="14.6">+ withDirectoryHandling()</tspan><tspan x="5290" dy="14.6">+ getDirectoryHandling()</tspan></text></g>
<g id="n_errorhandling" class="n"><rect x="5963" y="366" width="204" height="311"/><path d="M5963 391.6H6167M5963 416.6H6167"/><text class="t" y="381.5"><tspan x="6065">ilErrorHandling</tspan></text><text y="432.1"><tspan x="5971">+ __construct()</tspan><tspan x="5971" dy="14.6">+ getHandler()</tspan><tspan x="5971" dy="14.6">+ raiseError()</tspan><tspan x="5971" dy="14.6">+ getMessage()</tspan><tspan x="5971" dy="14.6">+ setMessage()</tspan><tspan x="5971" dy="14.6">+ appendMessage()</tspan><tspan x="5971" dy="14.6">+ handlePreWhoops()</tspan><tspan x="5971" dy="14.6"># initWhoopsHandlers()</tspan><tspan x="5971" dy="14.6"># getIlRuntime()</tspan><tspan x="5971" dy="14.6"># getWhoops()</tspan><tspan x="5971" dy="14.6"># isDevmodeActive()</tspan><tspan x="5971" dy="14.6"># defaultHandler()</tspan><tspan x="5971" dy="14.6"># devmodeHandler()</tspan><tspan x="5971" dy="14.6"># addEditorSupport()</tspan><tspan x="5971" dy="14.6"># applyEditorPathTranslations()</tspan><tspan x="5971" dy="14.6"># parseEditorPathTranslation()</tspan><tspan x="5971" dy="14.6">- errorHandler()</tspan></text></g>
<g id="n_objdef" class="n"><rect x="3757" y="972" width="220" height="341"/><path d="M3757 997.6H3977M3757 1022.6H3977"/><text class="t" y="987.5"><tspan x="3867">ilObjectDefinition</tspan></text><text y="1038.1"><tspan x="3765">+ __construct()</tspan><tspan x="3765" dy="14.6">+ readDefinitionData()</tspan><tspan x="3765" dy="14.6">+ getClassName()</tspan><tspan x="3765" dy="14.6">+ getLocation()</tspan><tspan x="3765" dy="14.6">+ getGroup()</tspan><tspan x="3765" dy="14.6">+ getGroupOfObj()</tspan><tspan x="3765" dy="14.6">+ hasCheckbox()</tspan><tspan x="3765" dy="14.6">+ getTranslationType()</tspan><tspan x="3765" dy="14.6">+ stopInheritance()</tspan><tspan x="3765" dy="14.6">+ getDevMode()</tspan><tspan x="3765" dy="14.6">and 38 more...</tspan><tspan x="3765" dy="14.6">+ getRepositoryObjectTypes</tspan><tspan x="3765" dy="14.6">ForComponent()</tspan><tspan x="3765" dy="14.6">+ getComponentForType()</tspan><tspan x="3765" dy="14.6">+ getGroupedRepositoryObject</tspan><tspan x="3765" dy="14.6">Types()</tspan><tspan x="3765" dy="14.6"># readPluginData()</tspan><tspan x="3765" dy="14.6"># parsePluginData()</tspan><tspan x="3765" dy="14.6"># getGroupedPluginObjectTypes()</tspan></text></g>
<g id="n_importmapping" class="n"><rect x="3518" y="1031" width="165" height="223"/><path d="M3518 1056.6H3683M3518 1081.6H3683"/><text class="t" y="1046.5"><tspan x="3600.5">ilImportMapping</tspan></text><text y="1097.1"><tspan x="3526">+ __construct()</tspan><tspan x="3526" dy="14.6">+ setInstallId()</tspan><tspan x="3526" dy="14.6">+ getInstallId()</tspan><tspan x="3526" dy="14.6">+ setInstallUrl()</tspan><tspan x="3526" dy="14.6">+ getInstallUrl()</tspan><tspan x="3526" dy="14.6">+ setTargetId()</tspan><tspan x="3526" dy="14.6">+ getTargetId()</tspan><tspan x="3526" dy="14.6">+ addMapping()</tspan><tspan x="3526" dy="14.6">+ getMapping()</tspan><tspan x="3526" dy="14.6">+ getAllMappings()</tspan><tspan x="3526" dy="14.6">+ getMappingsOfEntity()</tspan></text></g>
<g id="n_zipoptions" class="n"><rect x="5219" y="1060" width="160" height="165"/><path d="M5219 1100.2H5379M5219 1125.2H5379"/><text class="t" y="1075.5"><tspan x="5299">ILIAS\Filesystem\Util</tspan><tspan x="5299" dy="14.6">\Archive\ZipOptions</tspan></text><text y="1140.7"><tspan x="5227">+ withZipOutputPath()</tspan><tspan x="5227" dy="14.6">+ getZipOutputName()</tspan><tspan x="5227" dy="14.6">+ withZipOutputName()</tspan><tspan x="5227" dy="14.6">+ getZipOutputPath()</tspan><tspan x="5227" dy="14.6">+ getIterations()</tspan><tspan x="5227" dy="14.6">+ getDeflateLevel()</tspan></text></g>
<g id="n_ilias" class="n"><rect x="5453" y="1022" width="139" height="235"/><path d="M5453 1047.6H5592M5453 1128.6H5592"/><text class="t" y="1037.5"><tspan x="5522.5">ILIAS</tspan></text><text y="1063.1"><tspan x="5461">+ $account</tspan><tspan x="5461" dy="14.6">+ $ini</tspan><tspan x="5461" dy="14.6">+ $ini_ilias</tspan><tspan x="5461" dy="14.6">+ $db</tspan><tspan x="5461" dy="14.6">+ $error_obj</tspan></text><text y="1144.1"><tspan x="5461">+ __construct()</tspan><tspan x="5461" dy="14.6">+ getSetting()</tspan><tspan x="5461" dy="14.6">+ deleteSetting()</tspan><tspan x="5461" dy="14.6">+ getAllSettings()</tspan><tspan x="5461" dy="14.6">+ setSetting()</tspan><tspan x="5461" dy="14.6">+ getClientId()</tspan><tspan x="5461" dy="14.6">+ raiseError()</tspan><tspan x="5461" dy="14.6"># getSettingObject()</tspan></text></g>
<g id="n_unzipoptions" class="n"><rect x="5643" y="1074" width="153" height="136"/><path d="M5643 1114.2H5796M5643 1139.2H5796"/><text class="t" y="1089.5"><tspan x="5719.5">ILIAS\Filesystem\Util</tspan><tspan x="5719.5" dy="14.6">\Archive\UnzipOptions</tspan></text><text y="1154.7"><tspan x="5651">+ getZipOutputPath()</tspan><tspan x="5651" dy="14.6">+ withZipOutputPath()</tspan><tspan x="5651" dy="14.6">+ isOverwrite()</tspan><tspan x="5651" dy="14.6">+ withOverwrite()</tspan></text></g>
<g id="n_request" class="n"><rect x="6339" y="1089" width="157" height="106"/><path d="M6339 1129.2H6496M6339 1154.2H6496"/><text class="t" y="1104.5"><tspan x="6417.5">ILIAS\Cache\Container</tspan><tspan x="6417.5" dy="14.6">\Request</tspan></text><text y="1169.7"><tspan x="6347">+ getContainerKey()</tspan><tspan x="6347" dy="14.6">+ isForced()</tspan></text></g>
<g id="n_cachedlanguage" class="n"><rect x="6131" y="1573" width="139" height="297"/><path d="M6131 1598.6H6270M6131 1623.6H6270"/><text class="t" y="1588.5"><tspan x="6200.5">ilCachedLanguage</tspan></text><text y="1639.1"><tspan x="6139">+ getContainerKey()</tspan><tspan x="6139" dy="14.6">+ isForced()</tspan><tspan x="6139" dy="14.6">+ isActive()</tspan><tspan x="6139" dy="14.6">+ writeToCache()</tspan><tspan x="6139" dy="14.6">+ deleteInCache()</tspan><tspan x="6139" dy="14.6">+ flush()</tspan><tspan x="6139" dy="14.6">+ setLanguageKey()</tspan><tspan x="6139" dy="14.6">+ getLanguageKey()</tspan><tspan x="6139" dy="14.6">+ setLoaded()</tspan><tspan x="6139" dy="14.6">+ getLoaded()</tspan><tspan x="6139" dy="14.6">+ setTranslations()</tspan><tspan x="6139" dy="14.6">+ getTranslations()</tspan><tspan x="6139" dy="14.6">+ getInstance()</tspan><tspan x="6139" dy="14.6"># __construct()</tspan><tspan x="6139" dy="14.6"># readFromCache()</tspan><tspan x="6139" dy="14.6"># readFromDB()</tspan></text></g>
<g id="n_langlang" class="n"><rect x="5770" y="1662" width="175" height="121"/><path d="M5770 1687.6H5945M5770 1712.6H5945"/><text class="t" y="1677.5"><tspan x="5857.5">ILIAS\Language\Language</tspan></text><text y="1728.1"><tspan x="5778">+ txt()</tspan><tspan x="5778" dy="14.6">+ loadLanguageModule()</tspan><tspan x="5778" dy="14.6">+ getLangKey()</tspan><tspan x="5778" dy="14.6">+ toJS()</tspan></text></g>
<g id="n_language" class="n"><rect x="5520" y="1993" width="179" height="325"/><path d="M5520 2018.6H5699M5520 2043.6H5699"/><text class="t" y="2008.5"><tspan x="5609.5">ilLanguage</tspan></text><text y="2059.1"><tspan x="5528">+ __construct()</tspan><tspan x="5528" dy="14.6">+ getLangKey()</tspan><tspan x="5528" dy="14.6">+ getDefaultLanguage()</tspan><tspan x="5528" dy="14.6">+ getTextDirection()</tspan><tspan x="5528" dy="14.6">+ getContentLanguage()</tspan><tspan x="5528" dy="14.6">+ txtlng()</tspan><tspan x="5528" dy="14.6">+ txt()</tspan><tspan x="5528" dy="14.6">+ exists()</tspan><tspan x="5528" dy="14.6">+ loadLanguageModule()</tspan><tspan x="5528" dy="14.6">+ getInstalledLanguages()</tspan><tspan x="5528" dy="14.6">and 7 more...</tspan><tspan x="5528" dy="14.6">+ _getInstalledLanguages()</tspan><tspan x="5528" dy="14.6">+ _lookupEntry()</tspan><tspan x="5528" dy="14.6">+ lookupId()</tspan><tspan x="5528" dy="14.6">+ getFallbackInstance()</tspan><tspan x="5528" dy="14.6">+ getGlobalInstance()</tspan><tspan x="5528" dy="14.6"># logUsage()</tspan><tspan x="5528" dy="14.6"># isUsageLogEnabled()</tspan></text></g>
<g id="n_archives" class="n"><rect x="5256" y="1633" width="156" height="179"/><path d="M5256 1673.2H5412M5256 1698.2H5412"/><text class="t" y="1648.5"><tspan x="5334">ILIAS\Filesystem\Util</tspan><tspan x="5334" dy="14.6">\Archive\Archives</tspan></text><text y="1713.7"><tspan x="5264">+ __construct()</tspan><tspan x="5264" dy="14.6">+ zip()</tspan><tspan x="5264" dy="14.6">+ unzip()</tspan><tspan x="5264" dy="14.6">+ unzipOptions()</tspan><tspan x="5264" dy="14.6">+ zipOptions()</tspan><tspan x="5264" dy="14.6"># mergeZipOptions()</tspan><tspan x="5264" dy="14.6"># mergeUnzipOptions()</tspan></text></g>
<g id="n_rbacreview" class="n"><rect x="1858" y="921" width="220" height="442"/><path d="M1858 946.6H2078M1858 971.6H2078"/><text class="t" y="936.5"><tspan x="1968">ilRbacReview</tspan></text><text y="987.1"><tspan x="1866">+ __construct()</tspan><tspan x="1866" dy="14.6">+ roleExists()</tspan><tspan x="1866" dy="14.6">+ getParentRoleIds()</tspan><tspan x="1866" dy="14.6">+ getRoleListByObject()</tspan><tspan x="1866" dy="14.6">+ getAssignableRoles()</tspan><tspan x="1866" dy="14.6">+ getAssignableRolesInSubtree()</tspan><tspan x="1866" dy="14.6">+ getAssignableChildRoles()</tspan><tspan x="1866" dy="14.6">+ getNumberOfAssignedUsers()</tspan><tspan x="1866" dy="14.6">+ assignedUsers()</tspan><tspan x="1866" dy="14.6">+ isAssigned()</tspan><tspan x="1866" dy="14.6">and 43 more...</tspan><tspan x="1866" dy="14.6">+ _getOperationIdsByName()</tspan><tspan x="1866" dy="14.6">+ _getOperationIdByName()</tspan><tspan x="1866" dy="14.6">+ lookupCreateOperationIds()</tspan><tspan x="1866" dy="14.6">+ _getOperationList()</tspan><tspan x="1866" dy="14.6">+ _groupOperationsByClass()</tspan><tspan x="1866" dy="14.6">+ _getCustomRBACOperationId()</tspan><tspan x="1866" dy="14.6">+ _isRBACOperation()</tspan><tspan x="1866" dy="14.6"># __getParentRoles()</tspan><tspan x="1866" dy="14.6"># __setTemplateFilter()</tspan><tspan x="1866" dy="14.6"># __setRoleType()</tspan><tspan x="1866" dy="14.6"># __setProtectedStatus()</tspan><tspan x="1866" dy="14.6">- getAssignableRolesGenerator()</tspan><tspan x="1866" dy="14.6">- setRoleTypeAndProtection()</tspan><tspan x="1866" dy="14.6">- buildRoleType()</tspan><tspan x="1866" dy="14.6">- buildProtectionByStringValue()</tspan></text></g>
<g id="n_treeimpl" class="n"><rect x="2354" y="1031" width="180" height="223"/><path d="M2354 1056.6H2534M2354 1081.6H2534"/><text class="t" y="1046.5"><tspan x="2444">ilTreeImplementation</tspan></text><text y="1097.1"><tspan x="2362">+ getSubTreeIds()</tspan><tspan x="2362" dy="14.6">+ getSubTreeQuery()</tspan><tspan x="2362" dy="14.6">+ getTrashSubTreeQuery()</tspan><tspan x="2362" dy="14.6">+ getRelation()</tspan><tspan x="2362" dy="14.6">+ getPathIds()</tspan><tspan x="2362" dy="14.6">+ insertNode()</tspan><tspan x="2362" dy="14.6">+ deleteTree()</tspan><tspan x="2362" dy="14.6">+ moveToTrash()</tspan><tspan x="2362" dy="14.6">+ moveTree()</tspan><tspan x="2362" dy="14.6">+ getSubtreeInfo()</tspan><tspan x="2362" dy="14.6">+ validateParentRelations()</tspan></text></g>
<g id="n_appevent" class="n"><rect x="2963" y="1088" width="131" height="106"/><path d="M2963 1113.6H3094M2963 1138.6H3094"/><text class="t" y="1103.5"><tspan x="3028.5">ilAppEventHandler</tspan></text><text y="1154.1"><tspan x="2971">+ __construct()</tspan><tspan x="2971" dy="14.6">+ raise()</tspan><tspan x="2971" dy="14.6"># initListeners()</tspan></text></g>
<g id="n_rbacadmin" class="n"><rect x="1873" y="1595" width="189" height="253"/><path d="M1873 1620.6H2062M1873 1645.6H2062"/><text class="t" y="1610.5"><tspan x="1967.5">ilRbacAdmin</tspan></text><text y="1661.1"><tspan x="1881">+ __construct()</tspan><tspan x="1881" dy="14.6">+ setBlockedStatus()</tspan><tspan x="1881" dy="14.6">+ removeUser()</tspan><tspan x="1881" dy="14.6">+ deleteRole()</tspan><tspan x="1881" dy="14.6">+ deleteTemplate()</tspan><tspan x="1881" dy="14.6">+ deleteLocalRole()</tspan><tspan x="1881" dy="14.6">+ assignUserLimited()</tspan><tspan x="1881" dy="14.6">+ assignUser()</tspan><tspan x="1881" dy="14.6">+ deassignUser()</tspan><tspan x="1881" dy="14.6">+ grantPermission()</tspan><tspan x="1881" dy="14.6">and 18 more...</tspan><tspan x="1881" dy="14.6"># applyMovedObjectDidactic</tspan><tspan x="1881" dy="14.6">Templates()</tspan></text></g>
<g id="n_tree" class="n"><rect x="2527" y="1530" width="223" height="383"/><path d="M2527 1555.6H2750M2527 1578.2H2750"/><text class="t" y="1545.5"><tspan x="2638.5">ilTree</tspan></text><text y="1571"><tspan x="2535"># DEFAULT_GAP</tspan></text><text y="1593.7"><tspan x="2535">+ __construct()</tspan><tspan x="2535" dy="14.6">+ initTreeImplementation()</tspan><tspan x="2535" dy="14.6">+ getTreeImplementation()</tspan><tspan x="2535" dy="14.6">+ useCache()</tspan><tspan x="2535" dy="14.6">+ getDepthCache()</tspan><tspan x="2535" dy="14.6">+ getParentCache()</tspan><tspan x="2535" dy="14.6">+ initLangCode()</tspan><tspan x="2535" dy="14.6">+ getTreeTable()</tspan><tspan x="2535" dy="14.6">+ getObjectDataTable()</tspan><tspan x="2535" dy="14.6">+ getTreePk()</tspan><tspan x="2535" dy="14.6">and 60 more...</tspan><tspan x="2535" dy="14.6">+ lookupTreesForNode()</tspan><tspan x="2535" dy="14.6">+ _removeEntry()</tspan><tspan x="2535" dy="14.6"># isCacheUsed()</tspan><tspan x="2535" dy="14.6"># resetInTreeCache()</tspan><tspan x="2535" dy="14.6"># fetchTranslationFromObject</tspan><tspan x="2535" dy="14.6">DataCache()</tspan><tspan x="2535" dy="14.6"># __renumber()</tspan><tspan x="2535" dy="14.6"># __checkDelete()</tspan><tspan x="2535" dy="14.6"># __getSubTreeByParentRelation()</tspan><tspan x="2535" dy="14.6"># __validateSubtrees()</tspan><tspan x="2535" dy="14.6"># isRepositoryTree()</tspan></text></g>
<g id="n_xmlimporter" class="n"><rect x="4166" y="1610" width="151" height="223"/><path d="M4166 1635.6H4317M4166 1660.6H4317"/><text class="t" y="1625.5"><tspan x="4241.5">ilXmlImporter</tspan></text><text y="1676.1"><tspan x="4174">+ __construct()</tspan><tspan x="4174" dy="14.6">+ setImport()</tspan><tspan x="4174" dy="14.6">+ getImport()</tspan><tspan x="4174" dy="14.6">+ init()</tspan><tspan x="4174" dy="14.6">+ setInstallId()</tspan><tspan x="4174" dy="14.6">+ getInstallId()</tspan><tspan x="4174" dy="14.6">+ setInstallUrl()</tspan><tspan x="4174" dy="14.6">+ getInstallUrl()</tspan><tspan x="4174" dy="14.6">+ setSchemaVersion()</tspan><tspan x="4174" dy="14.6">+ getSchemaVersion()</tspan><tspan x="4174" dy="14.6">and 8 more...</tspan></text></g>
<g id="n_filesystems" class="n"><rect x="4340" y="1646" width="199" height="150"/><path d="M4340 1671.6H4539M4340 1696.6H4539"/><text class="t" y="1661.5"><tspan x="4439.5">ILIAS\Filesystem\Filesystems</tspan></text><text y="1712.1"><tspan x="4348">+ web()</tspan><tspan x="4348" dy="14.6">+ storage()</tspan><tspan x="4348" dy="14.6">+ temp()</tspan><tspan x="4348" dy="14.6">+ customizing()</tspan><tspan x="4348" dy="14.6">+ libs()</tspan><tspan x="4348" dy="14.6">+ nodeModules()</tspan></text></g>
<g id="n_import" class="n"><rect x="3783" y="2007" width="176" height="296"/><path d="M3783 2032.6H3959M3783 2057.6H3959"/><text class="t" y="2022.5"><tspan x="3871">ilImport</tspan></text><text y="2073.1"><tspan x="3791">+ __construct()</tspan><tspan x="3791" dy="14.6">+ getConfig()</tspan><tspan x="3791" dy="14.6">+ getMapping()</tspan><tspan x="3791" dy="14.6">+ setEntityTypes()</tspan><tspan x="3791" dy="14.6">+ getEntityTypes()</tspan><tspan x="3791" dy="14.6">+ addSkipEntity()</tspan><tspan x="3791" dy="14.6">+ addSkipImporter()</tspan><tspan x="3791" dy="14.6">+ importEntity()</tspan><tspan x="3791" dy="14.6">+ importObject()</tspan><tspan x="3791" dy="14.6">+ importFromDirectory()</tspan><tspan x="3791" dy="14.6">+ getTemporaryImportDir()</tspan><tspan x="3791" dy="14.6">+ processItemXml()</tspan><tspan x="3791" dy="14.6"># validateXMLFiles()</tspan><tspan x="3791" dy="14.6"># checkStatuses()</tspan><tspan x="3791" dy="14.6"># setTemporaryImportDir()</tspan><tspan x="3791" dy="14.6"># doImportObject()</tspan></text></g>
<g id="n_properties" class="n"><rect x="4289" y="2021" width="235" height="267"/><path d="M4289 2061.2H4524M4289 2086.2H4524"/><text class="t" y="2036.5"><tspan x="4406.5">ILIAS\ILIASObject\Properties</tspan><tspan x="4406.5" dy="14.6">\Properties</tspan></text><text y="2101.7"><tspan x="4297">+ __construct()</tspan><tspan x="4297" dy="14.6">+ storeCoreProperties()</tspan><tspan x="4297" dy="14.6">+ getOwner()</tspan><tspan x="4297" dy="14.6">+ withOwner()</tspan><tspan x="4297" dy="14.6">+ getImportId()</tspan><tspan x="4297" dy="14.6">+ withImportId()</tspan><tspan x="4297" dy="14.6">+ getPropertyTitleAndDescription()</tspan><tspan x="4297" dy="14.6">+ withPropertyTitleAndDescription()</tspan><tspan x="4297" dy="14.6">+ storePropertyTitleAndDescription()</tspan><tspan x="4297" dy="14.6">+ getPropertyIsOnline()</tspan><tspan x="4297" dy="14.6">and 16 more...</tspan><tspan x="4297" dy="14.6">- updateMetadataForTitleAnd</tspan><tspan x="4297" dy="14.6">Description()</tspan></text></g>
<g id="n_aggregator" class="n"><rect x="4548" y="2094" width="195" height="121"/><path d="M4548 2134.2H4743M4548 2159.2H4743"/><text class="t" y="2109.5"><tspan x="4645.5">ILIAS\ILIASObject\Properties</tspan><tspan x="4645.5" dy="14.6">\Aggregator</tspan></text><text y="2174.7"><tspan x="4556">+ __construct()</tspan><tspan x="4556" dy="14.6">+ getFor()</tspan><tspan x="4556" dy="14.6">+ preload()</tspan></text></g>
<g id="n_object" class="n"><rect x="3633" y="2382" width="227" height="619"/><path d="M3633 2407.6H3860M3633 2432.6H3860"/><text class="t" y="2397.5"><tspan x="3746.5">ilObject</tspan></text><text y="2448.1"><tspan x="3641">+ getObjectProperties()</tspan><tspan x="3641" dy="14.6">+ flushObjectProperties()</tspan><tspan x="3641" dy="14.6">+ withReferences()</tspan><tspan x="3641" dy="14.6">+ processAutoRating()</tspan><tspan x="3641" dy="14.6">+ read()</tspan><tspan x="3641" dy="14.6">+ getId()</tspan><tspan x="3641" dy="14.6">+ setId()</tspan><tspan x="3641" dy="14.6">+ setRefId()</tspan><tspan x="3641" dy="14.6">+ getRefId()</tspan><tspan x="3641" dy="14.6">+ getType()</tspan><tspan x="3641" dy="14.6">and 40 more...</tspan><tspan x="3641" dy="14.6">+ _lookupObjIdByImportId()</tspan><tspan x="3641" dy="14.6">+ _lookupImportId()</tspan><tspan x="3641" dy="14.6">+ _lookupOwnerName()</tspan><tspan x="3641" dy="14.6">+ _getIdForImportId()</tspan><tspan x="3641" dy="14.6">+ _getAllReferences()</tspan><tspan x="3641" dy="14.6">+ _lookupTitle()</tspan><tspan x="3641" dy="14.6">+ lookupOfflineStatus()</tspan><tspan x="3641" dy="14.6">+ _lookupOwner()</tspan><tspan x="3641" dy="14.6">+ _getIdsForTitle()</tspan><tspan x="3641" dy="14.6">+ _lookupDescription()</tspan><tspan x="3641" dy="14.6">and 27 more...</tspan><tspan x="3641" dy="14.6"># doMDUpdateListener()</tspan><tspan x="3641" dy="14.6"># beforeMDUpdateListener()</tspan><tspan x="3641" dy="14.6"># doCreateMetaData()</tspan><tspan x="3641" dy="14.6"># beforeCreateMetaData()</tspan><tspan x="3641" dy="14.6"># doUpdateMetaData()</tspan><tspan x="3641" dy="14.6"># beforeUpdateMetaData()</tspan><tspan x="3641" dy="14.6"># doDeleteMetaData()</tspan><tspan x="3641" dy="14.6"># beforeDeleteMetaData()</tspan><tspan x="3641" dy="14.6"># handleAutoRating()</tspan><tspan x="3641" dy="14.6"># hasAutoRating()</tspan><tspan x="3641" dy="14.6">- appendCopyInfoToTranslations()</tspan><tspan x="3641" dy="14.6">- getCallbackForTitlesPerLanguage</tspan><tspan x="3641" dy="14.6">Transformation()</tspan><tspan x="3641" dy="14.6">- appendNumberOfCopiesToTitle()</tspan><tspan x="3641" dy="14.6">- isTitleUnique()</tspan><tspan x="3641" dy="14.6">- buildTitleWithoutCopySuffix()</tspan></text></g>
<g id="n_objuser" class="n"><rect x="3601" y="3065" width="202" height="761"/><path d="M3601 3090.6H3803M3601 3419.8H3803"/><text class="t" y="3080.5"><tspan x="3702">ilObjUser</tspan></text><text y="3106.1"><tspan x="3609">+ $login</tspan><tspan x="3609" dy="14.6">+ $gender</tspan><tspan x="3609" dy="14.6">+ $utitle</tspan><tspan x="3609" dy="14.6">+ $firstname</tspan><tspan x="3609" dy="14.6">+ $lastname</tspan><tspan x="3609" dy="14.6">+ $fullname</tspan><tspan x="3609" dy="14.6">+ $department</tspan><tspan x="3609" dy="14.6">+ $street</tspan><tspan x="3609" dy="14.6">+ $city</tspan><tspan x="3609" dy="14.6">+ $country</tspan><tspan x="3609" dy="14.6">and 12 more...</tspan><tspan x="3609" dy="14.6"># $time_limit_message</tspan><tspan x="3609" dy="14.6"># $last_login</tspan><tspan x="3609" dy="14.6"># $passwd</tspan><tspan x="3609" dy="14.6"># $password_encoding_type</tspan><tspan x="3609" dy="14.6"># $password_salt</tspan><tspan x="3609" dy="14.6"># $birthday</tspan><tspan x="3609" dy="14.6"># $second_email</tspan><tspan x="3609" dy="14.6"># $inactivation_date</tspan><tspan x="3609" dy="14.6"># $org_units</tspan><tspan x="3609" dy="14.6"># $last_profile_prompt</tspan><tspan x="3609" dy="14.6"># $avatar_rid</tspan></text><text y="3435.3"><tspan x="3609">+ __construct()</tspan><tspan x="3609" dy="14.6">+ read()</tspan><tspan x="3609" dy="14.6">+ getPasswordEncodingType()</tspan><tspan x="3609" dy="14.6">+ setPasswordEncodingType()</tspan><tspan x="3609" dy="14.6">+ getPasswordSalt()</tspan><tspan x="3609" dy="14.6">+ setPasswordSalt()</tspan><tspan x="3609" dy="14.6">+ assignData()</tspan><tspan x="3609" dy="14.6">+ saveAsNew()</tspan><tspan x="3609" dy="14.6">+ update()</tspan><tspan x="3609" dy="14.6">+ writeAccepted()</tspan><tspan x="3609" dy="14.6">and 169 more...</tspan><tspan x="3609" dy="14.6">+ _lookupFullname()</tspan><tspan x="3609" dy="14.6">+ _lookupEmail()</tspan><tspan x="3609" dy="14.6">+ _lookupGender()</tspan><tspan x="3609" dy="14.6">+ _lookupClientIP()</tspan><tspan x="3609" dy="14.6">+ _lookupName()</tspan><tspan x="3609" dy="14.6">+ _lookupFields()</tspan><tspan x="3609" dy="14.6">+ _lookupLogin()</tspan><tspan x="3609" dy="14.6">+ _lookupExternalAccount()</tspan><tspan x="3609" dy="14.6">+ _lookupId()</tspan><tspan x="3609" dy="14.6">+ _lookupLastLogin()</tspan><tspan x="3609" dy="14.6">and 62 more...</tspan><tspan x="3609" dy="14.6"># buildTextFromArray()</tspan><tspan x="3609" dy="14.6"># readMultiTextFields()</tspan><tspan x="3609" dy="14.6"># deleteMultiTextFields()</tspan><tspan x="3609" dy="14.6">- _lookup()</tspan><tspan x="3609" dy="14.6">- getLoginFromAuth()</tspan></text></g>
<g id="n_lsimporter" class="n f"><rect x="4667" y="3894" width="227" height="223"/><path d="M4667 3919.6H4894M4667 3944.6H4894"/><text class="t" y="3909.5"><tspan x="4780.5">ilLearningSequenceImporter</tspan></text><text y="3960.1"><tspan x="4675">+ init()</tspan><tspan x="4675" dy="14.6">+ importXmlRepresentation()</tspan><tspan x="4675" dy="14.6">+ finalProcessing()</tspan><tspan x="4675" dy="14.6">+ afterContainerImportProcessing()</tspan><tspan x="4675" dy="14.6"># updateRefId()</tspan><tspan x="4675" dy="14.6"># buildLSItems()</tspan><tspan x="4675" dy="14.6"># buildSettings()</tspan><tspan x="4675" dy="14.6"># buildLPSettings()</tspan><tspan x="4675" dy="14.6"># decodeImageData()</tspan><tspan x="4675" dy="14.6"># getNewImagePath()</tspan><tspan x="4675" dy="14.6"># writeToFileSystem()</tspan></text></g>
<g id="n_const" class="x"><rect x="1004" y="102" width="54" height="76"/><path d="M1004 127.6H1058M1004 152.6H1058"/><text class="t" x="1031" y="117.5">const</text></g>
<g id="n_int" class="x"><rect x="2716" y="102" width="38" height="76"/><path d="M2716 127.6H2754M2716 152.6H2754"/><text class="t" x="2735" y="117.5">int</text></g>
<g id="n_array" class="x"><rect x="3874" y="101" width="51" height="76"/><path d="M3874 126.6H3925M3874 151.6H3925"/><text class="t" x="3899.5" y="116.5">array</text></g>
<g id="n_string" class="x"><rect x="4855" y="101" width="54" height="76"/><path d="M4855 126.6H4909M4855 151.6H4909"/><text class="t" x="4882" y="116.5">string</text></g>
<g id="n_zipdir" class="x"><rect x="5350" y="101" width="143" height="76"/><path d="M5350 126.6H5493M5350 151.6H5493"/><text class="t" x="5421.5" y="116.5">ZipDirectoryHandling</text></g>
<g id="n_runinterface" class="x"><rect x="5685" y="101" width="97" height="76"/><path d="M5685 126.6H5782M5685 151.6H5782"/><text class="t" x="5733.5" y="116.5">RunInterface</text></g>
<g id="n_static" class="x"><rect x="6244" y="101" width="54" height="76"/><path d="M6244 126.6H6298M6244 151.6H6298"/><text class="t" x="6271" y="116.5">static</text></g>
<g id="n_bool" class="x"><rect x="6632" y="101" width="47" height="76"/><path d="M6632 126.6H6679M6632 151.6H6679"/><text class="t" x="6655.5" y="116.5">bool</text></g>
<g id="n_importfactory" class="x"><rect x="4030" y="1683" width="111" height="76"/><path d="M4030 1708.6H4141M4030 1733.6H4141"/><text class="t" x="4085.5" y="1698.5">ilImportFactory</text></g>
<g id="n_importstatusfactory" class="x"><rect x="4565" y="1683" width="145" height="76"/><path d="M4565 1708.6H4710M4565 1733.6H4710"/><text class="t" x="4637.5" y="1698.5">ilImportStatusFactory</text></g>
<g id="n_translationsrepo" class="x"><rect x="3984" y="2117" width="156" height="76"/><path d="M3984 2142.6H4140M3984 2167.6H4140"/><text class="t" x="4062" y="2132.5">TranslationsRepository</text></g>
<g id="n_lomservices" class="x"><rect x="4164" y="2117" width="101" height="76"/><path d="M4164 2142.6H4265M4164 2167.6H4265"/><text class="t" x="4214.5" y="2132.5">LOMServices</text></g>
</svg>
